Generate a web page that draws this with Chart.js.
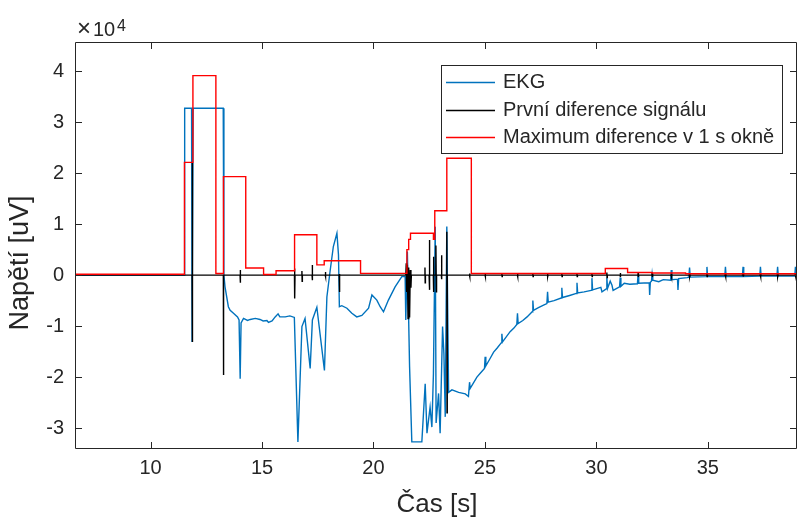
<!DOCTYPE html>
<html>
<head>
<meta charset="utf-8">
<title>EKG</title>
<script src="https://cdn.jsdelivr.net/npm/chart.js@4.4.1/dist/chart.umd.min.js"></script>
<style>
  html, body { margin: 0; padding: 0; background: #fff; }
  #wrap { width: 797px; height: 520px; }
</style>
</head>
<body>
<div id="wrap"><canvas id="graf" width="797" height="520"></canvas></div>
<script>
"use strict";

// Ticks
var xTicks = [10, 15, 20, 25, 30, 35];
var yTicks = [-30000, -20000, -10000, 0, 10000, 20000, 30000, 40000];

// EKG signal [uV]
var ekgT = [6.61, 11.50, 11.53, 11.84, 11.86, 11.89, 11.91, 13.26, 13.29, 13.34, 13.49, 13.57, 13.72, 13.90, 13.97, 14.02, 14.06, 14.17, 14.35, 14.47,
  14.70, 14.91, 15.05, 15.22, 15.29, 15.45, 15.59, 15.72, 15.80, 16.04, 16.25, 16.45, 16.61, 16.79, 16.93, 17.16, 17.26, 17.46, 17.80, 17.91,
  18.06, 18.20, 18.36, 18.43, 18.47, 18.58, 18.81, 19.03, 19.25, 19.48, 19.78, 19.93, 20.15, 20.30, 20.45, 20.67, 20.97, 21.27, 21.42, 21.45,
  21.52, 21.62, 21.72, 22.17, 22.32, 22.40, 22.54, 22.62, 22.69, 22.77, 22.81, 22.92, 22.99, 23.10, 23.16, 23.22, 23.29, 23.37, 23.52, 23.82,
  24.12, 24.26, 24.31, 24.34, 24.64, 24.80, 24.98, 25.01, 25.04, 25.20, 25.39, 25.55, 25.73, 25.76, 25.79, 26.13, 26.30, 26.43, 26.46, 26.49,
  26.70, 26.89, 27.12, 27.15, 27.18, 27.40, 27.63, 27.78, 27.81, 27.84, 28.10, 28.42, 28.45, 28.48, 28.80, 29.10, 29.13, 29.16, 29.45, 29.77,
  29.80, 29.83, 30.20, 30.25, 30.44, 30.47, 30.50, 30.62, 30.70, 30.75, 31.04, 31.07, 31.10, 31.25, 31.50, 31.84, 31.87, 31.90, 32.37, 32.39,
  32.42, 32.47, 32.50, 32.53, 32.80, 33.00, 33.33, 33.36, 33.39, 33.64, 33.66, 33.69, 34.07, 34.15, 34.18, 34.21, 34.93, 34.96, 34.99, 35.76,
  35.79, 35.82, 36.55, 36.58, 36.61, 37.33, 37.36, 37.39, 38.10, 38.13, 38.16, 38.90, 38.93, 38.96, 39.00];
var ekgV = [0, 0, 32700, 32700, -13100, -13100, 32700, 32700, 0, -2300, -6200, -6900, -7500, -8200, -8800, -20300, -9400, -8500, -8900, -8700,
  -8500, -8700, -9000, -8900, -9300, -9000, -8200, -7600, -8200, -8200, -8000, -8300, -32700, -10100, -8500, -18300, -8800, -6300, -18700, -4300,
  1000, 5600, 8200, 4000, -6200, -6000, -6500, -7500, -8200, -7900, -6500, -3900, -4900, -6200, -7200, -4900, -2300, -300, -300, -8800,
  4600, -18000, -32700, -32700, -21300, -31000, -25900, -29800, -19300, 9500, -29000, -23200, -31000, -10100, -15400, -27800, 9500, -23000, -22500, -23000,
  -23300, -23800, -21000, -22200, -20000, -19200, -18300, -16000, -17800, -16600, -15100, -14300, -13300, -11500, -13100, -11100, -10400, -9700, -7500, -9500,
  -8900, -8200, -7200, -5000, -6900, -6400, -5900, -5600, -3300, -5300, -5000, -4500, -2500, -4400, -4000, -3600, -1500, -3500, -3300, -3000,
  -600, -2900, -2400, -3300, -2700, -500, -2600, -1200, -2000, -3000, -2300, -500, -2200, -1600, -1800, -1700, 0, -1600, -1500, -3900,
  -1400, -1200, 200, -1000, -1300, -900, -1000, 1000, -900, -800, -2900, -700, -500, -400, 1500, -400, -300, 1600, -300, -300,
  1600, -300, -300, 1600, -300, -200, 1600, -200, -200, 1600, -200, -200, 1600, -200, -200];

// First difference
var difT = [6.61, 11.865, 11.87, 11.88, 11.89, 13.265, 13.27, 13.28, 14.015, 14.02, 14.03, 14.04, 16.455, 16.46, 16.47, 16.48, 16.785, 16.79, 16.80, 16.81,
  17.245, 17.25, 17.26, 17.27, 17.835, 17.84, 17.85, 17.86, 18.465, 18.47, 18.48, 18.49, 21.45, 21.47, 21.49, 21.52, 21.55, 21.58, 21.62, 21.65,
  21.68, 21.70, 22.305, 22.31, 22.32, 22.33, 22.495, 22.50, 22.52, 22.53, 22.685, 22.69, 22.70, 22.71, 22.795, 22.80, 22.82, 22.83, 23.045, 23.05,
  23.06, 23.07, 23.285, 23.29, 23.30, 23.31,
  24.305, 24.31, 24.32, 24.33, 25.005, 25.01, 25.02, 25.03, 25.755, 25.76, 25.77, 25.78, 26.455, 26.46, 26.47, 26.48,
  27.145, 27.15, 27.16, 27.17, 27.805, 27.81, 27.82, 27.83, 28.445, 28.45, 28.46, 28.47, 29.125, 29.13, 29.14, 29.15,
  29.795, 29.80, 29.81, 29.82, 30.465, 30.47, 30.48, 30.49, 31.065, 31.07, 31.08, 31.09, 31.865, 31.87, 31.88, 31.89,
  32.495, 32.50, 32.51, 32.52, 33.355, 33.36, 33.37, 33.38, 34.175, 34.18, 34.19, 34.20, 34.955, 34.96, 34.97, 34.98,
  35.785, 35.79, 35.80, 35.81, 36.575, 36.58, 36.59, 36.60, 37.355, 37.36, 37.37, 37.38, 38.125, 38.13, 38.14, 38.15,
  38.925, 38.93, 38.94, 38.95, 39.00];
var difV = [0, 0, 22000, -13100, 0, 0, -19600, 0, 0, 1000, -1500, 0, 0, 1300, -4600, 0, 0, 800, -1200, 0,
  0, 2000, -1000, 0, 0, 600, -300, 0, 0, 200, -3300, 0, 0, 2300, -3300, 2000, -8500, 1500, -8300, 1000,
  -2500, 0, 0, 1500, -1500, 0, 0, 6900, -2900, 0, 0, 3600, -3300, 0, 0, 5800, -3300, 0, 0, 3900,
  -800, 0, 0, 8500, -27000, 0,
  0, 300, -300, 0, 0, 300, -300, 0, 0, 300, -300, 0, 0, 300, -300, 0,
  0, 300, -300, 0, 0, 300, -300, 0, 0, 300, -300, 0, 0, 300, -300, 0,
  0, 300, -300, 0, 0, 500, -500, 0, 0, 400, -400, 0, 0, 400, -400, 0,
  0, 400, -400, 0, 0, 300, -300, 0, 0, 300, -300, 0, 0, 300, -300, 0,
  0, 300, -300, 0, 0, 300, -300, 0, 0, 300, -300, 0, 0, 300, -300, 0,
  0, 300, -300, 0, 0];

// Max difference in 1 s window (value holds from time until next time)
var maxT = [6.61, 11.52, 11.90, 12.93, 13.27, 14.27, 15.07, 15.63, 16.46, 17.46, 17.79, 19.42, 21.50, 21.58, 21.66, 22.69, 22.75, 23.29, 24.39, 30.40,
  31.40, 32.50, 34.00, 39.00];
var maxV = [150, 22100, 39100, 300, 19300, 1400, 100, 850, 7900, 2000, 2800, 330, 5000, 7000, 8200, 7000, 12600, 22900, 300, 1300,
  500, 400, 250, 250];

var legendLabels = ["EKG", "První diference signálu", "Maximum diference v 1 s okně"];
var colors = ["#0072BD", "#000000", "#FF0000"];
var fontName = "'Liberation Sans', Arial, Helvetica, sans-serif";
var textColor = "#262626";

function pts(ts, vs) {
  return ts.map(function (t, i) {
    return { x: t, y: vs[i] };
  });
}

// box, inward ticks, titles, legend and exponent like matlab
var matlabAxes = {
  id: "matlabAxes",
  afterDraw: function (chart) {
    var c = chart.ctx;
    var a = chart.chartArea;
    var xs = chart.scales.x;
    var ys = chart.scales.y;
    c.save();
    c.strokeStyle = textColor;
    c.lineWidth = 1;
    c.beginPath();
    c.rect(a.left + 0.5, a.top + 0.5, a.right - a.left - 1, a.bottom - a.top - 1);
    xTicks.forEach(function (t) {
      var px = Math.round(xs.getPixelForValue(t)) + 0.5;
      c.moveTo(px, a.bottom);
      c.lineTo(px, a.bottom - 7);
      c.moveTo(px, a.top);
      c.lineTo(px, a.top + 7);
    });
    yTicks.forEach(function (v) {
      var py = Math.round(ys.getPixelForValue(v)) + 0.5;
      c.moveTo(a.left, py);
      c.lineTo(a.left + 7, py);
      c.moveTo(a.right, py);
      c.lineTo(a.right - 7, py);
    });
    c.stroke();

    // axis titles
    c.fillStyle = textColor;
    c.textAlign = "center";
    c.textBaseline = "middle";
    c.font = "26px " + fontName;
    c.fillText("Čas [s]", 437, 505);
    c.save();
    c.translate(21, 263);
    c.rotate(-Math.PI / 2);
    c.font = "27px " + fontName;
    c.fillText("Napětí [uV]", 0, 0);
    c.restore();

    // legend
    var lx = 441, ly = 65, lw = 341, lh = 88;
    c.fillStyle = "#fff";
    c.fillRect(lx, ly, lw, lh);
    c.strokeStyle = textColor;
    c.strokeRect(lx + 0.5, ly + 0.5, lw, lh);
    c.font = "20px " + fontName;
    c.textAlign = "left";
    for (var i = 0; i < legendLabels.length; i++) {
      var y = Math.round(82 + i * 27.7) + 0.5;
      c.beginPath();
      c.strokeStyle = colors[i];
      c.lineWidth = 1.3;
      c.moveTo(446, y);
      c.lineTo(495, y);
      c.stroke();
      c.fillStyle = textColor;
      c.fillText(legendLabels[i], 503, y);
    }

    // x10^4
    c.textBaseline = "alphabetic";
    c.fillStyle = textColor;
    c.font = "24px " + fontName;
    c.fillText("\u00D7", 77, 36);
    c.font = "20px " + fontName;
    c.fillText("10", 93, 36);
    c.font = "16px " + fontName;
    c.fillText("4", 117, 31);
    c.restore();
  }
};

var ctx = document.getElementById("graf").getContext("2d");
var myChart = new Chart(ctx, {
  type: "line",
  data: {
    datasets: [
      {
        label: legendLabels[0],
        data: pts(ekgT, ekgV),
        borderColor: colors[0],
        borderWidth: 1.4,
        order: 3,
      },
      {
        label: legendLabels[1],
        data: pts(difT, difV),
        borderColor: colors[1],
        borderWidth: 1.4,
        order: 2,
      },
      {
        label: legendLabels[2],
        data: pts(maxT, maxV),
        borderColor: colors[2],
        borderWidth: 1.4,
        stepped: true,
        order: 1,
      },
    ],
  },
  options: {
    responsive: false,
    animation: false,
    devicePixelRatio: 1,
    layout: { padding: { top: 42, right: 0, left: 0, bottom: 0 } },
    elements: { point: { radius: 0 }, line: { tension: 0, fill: false } },
    plugins: { legend: { display: false }, tooltip: { enabled: false } },
    scales: {
      x: {
        type: "linear",
        min: 6.61,
        max: 39,
        grid: { display: false, drawTicks: false },
        border: { display: false },
        afterBuildTicks: function (s) {
          s.ticks = xTicks.map(function (v) { return { value: v }; });
        },
        afterFit: function (s) { s.height = 71; },
        ticks: {
          color: textColor,
          padding: 7,
          maxRotation: 0,
          font: { family: fontName, size: 20 },
        },
      },
      y: {
        type: "linear",
        min: -34100,
        max: 45700,
        grid: { display: false, drawTicks: false },
        border: { display: false },
        afterBuildTicks: function (s) {
          s.ticks = yTicks.map(function (v) { return { value: v }; });
        },
        afterFit: function (s) { s.width = 75; },
        ticks: {
          color: textColor,
          padding: 11,
          font: { family: fontName, size: 20 },
          callback: function (v) { return String(v / 10000); },
        },
      },
    },
  },
  plugins: [matlabAxes],
});
</script>
</body>
</html>
